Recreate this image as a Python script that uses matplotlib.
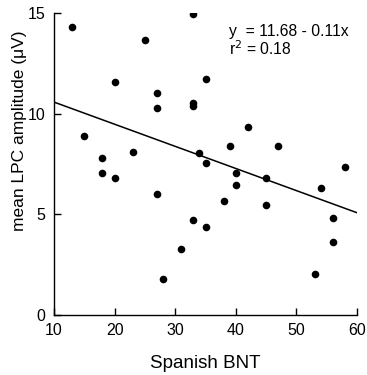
import numpy as np
import matplotlib.pyplot as plt

plt.rcParams['font.family'] = ['Liberation Sans', 'DejaVu Sans']

# Spanish BNT score vs mean LPC amplitude (uV)
bnt = [13, 33, 25, 20, 35, 27, 27, 33, 33, 15, 18, 18, 20, 23, 34, 35, 27,
       33, 35, 31, 28, 42, 39, 47, 40, 40, 45, 38, 45, 54, 58, 56, 56, 53]
lpc = [14.3, 14.95, 13.66, 11.57, 11.72, 11.03, 10.28, 10.55, 10.4, 8.9,
       7.78, 7.04, 6.8, 8.11, 8.06, 7.53, 6.0, 4.72, 4.39, 3.29, 1.77,
       9.34, 8.41, 8.41, 7.04, 6.44, 6.8, 5.68, 5.46, 6.29, 7.37, 4.83,
       3.64, 2.04]

intercept = 11.68
slope = -0.11
r2 = 0.18

fig = plt.figure(figsize=(3.67, 3.75), dpi=100)
ax = fig.add_axes([0.147, 0.16, 0.826, 0.805])

ax.scatter(bnt, lpc, s=30, color='black', zorder=3, linewidths=0)

xs = np.array([10, 60])
ax.plot(xs, intercept + slope * xs, color='black', linewidth=1.1)

ax.set_xlim(10, 60)
ax.set_ylim(0, 15)
ax.set_xticks([10, 20, 30, 40, 50, 60])
ax.set_yticks([0, 5, 10, 15])

for side in ['top', 'right']:
    ax.spines[side].set_visible(False)
for side in ['left', 'bottom']:
    ax.spines[side].set_linewidth(1.0)

ax.tick_params(direction='in', length=5, width=1, labelsize=11.5)
ax.tick_params(axis='x', pad=6)
ax.tick_params(axis='y', pad=6)

ax.set_xlabel('Spanish BNT', fontsize=13.5, labelpad=12)
ax.set_ylabel('mean LPC amplitude (\u03bcV)', fontsize=12.5, labelpad=2)
ax.yaxis.set_label_coords(-0.09, 0.61)

ax.text(38.8, 13.6, 'y  = %.2f - %.2fx\nr$^2$ = %.2f' % (intercept, -slope, r2),
        fontsize=11.3, va='center', ha='left', linespacing=1.0)

fig.savefig('out.png', dpi=100)
